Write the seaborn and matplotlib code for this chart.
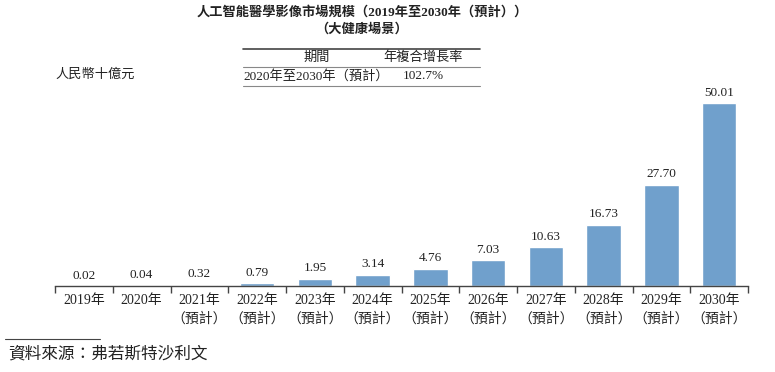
import pandas as pd
import matplotlib.pyplot as plt
import seaborn as sns

# data
years = ['2019年', '2020年', '2021年', '2022年', '2023年', '2024年',
         '2025年', '2026年', '2027年', '2028年', '2029年', '2030年']
forecast = [False, False, True, True, True, True, True, True, True, True, True, True]
market_size = [0.02, 0.04, 0.32, 0.79, 1.95, 3.14, 4.76, 7.03, 10.63, 16.73, 27.70, 50.01]
value_labels = ['0.02', '0.04', '0.32', '0.79', '1.95', '3.14', '4.76', '7.03',
                '10.63', '16.73', '27.70', '50.01']

tick_labels = [y + '\n（預計）' if f else y for y, f in zip(years, forecast)]
df = pd.DataFrame({'year': tick_labels, 'value': market_size})

sns.set_style('white')
fonts = ['Liberation Serif', 'Noto Sans CJK TC', 'DejaVu Sans']
plt.rcParams['font.family'] = fonts
txt = '#222222'

fig = plt.figure(figsize=(7.75, 3.72), dpi=100)
ax = fig.add_axes([55 / 775, 1 - 286 / 372, 693 / 775, 206 / 372])

sns.barplot(data=df, x='year', y='value', color='#70a0cc', width=0.6,
            saturation=1, ax=ax)
ax.set_ylim(0, 56.3)
ax.set_xlim(-0.5, len(years) - 0.5)

for i, (v, lab) in enumerate(zip(market_size, value_labels)):
    ax.text(i, v + 1.2, lab, ha='center', va='bottom', fontsize=9.5, color=txt)

sns.despine(ax=ax, left=True)
ax.spines['bottom'].set_color('#444444')
ax.spines['bottom'].set_linewidth(1.0)
ax.set_yticks([])
ax.set_xlabel('')
ax.set_ylabel('')
ax.set_xticks(range(len(years)))
ax.set_xticklabels(tick_labels, fontsize=10, color=txt, linespacing=1.45)
ax.tick_params(axis='x', which='major', length=0, pad=6)
ax.set_xticks([i - 0.5 for i in range(len(years) + 1)], minor=True)
ax.tick_params(axis='x', which='minor', bottom=True, length=5, width=1.0,
               color='#444444', direction='out')

# title
fig.text(362 / 775, 1 - 12 / 372, '人工智能醫學影像市場規模（2019年至2030年（預計））',
         ha='center', va='center', fontsize=9.5, fontweight='bold', color=txt)
fig.text(362 / 775, 1 - 29 / 372, '（大健康場景）', ha='center', va='center',
         fontsize=9.5, fontweight='bold', color=txt)

# CAGR table
x0, x1 = 243 / 775, 480 / 775
for y, lw, c in [(49, 1.2, '#444444'), (67, 0.8, '#888888'), (86, 0.8, '#888888')]:
    fig.add_artist(plt.Line2D([x0, x1], [1 - y / 372, 1 - y / 372],
                              transform=fig.transFigure, lw=lw, color=c))
fig.text(317 / 775, 1 - 58 / 372, '期間', ha='center', va='center', fontsize=9.5, color=txt)
fig.text(423 / 775, 1 - 58 / 372, '年複合增長率', ha='center', va='center', fontsize=9.5, color=txt)
fig.text(x0, 1 - 76 / 372, '2020年至2030年（預計）', ha='left', va='center', fontsize=9.5, color=txt)
fig.text(423 / 775, 1 - 76 / 372, '102.7%', ha='center', va='center', fontsize=9.5, color=txt)

# unit
fig.text(55 / 775, 1 - 75 / 372, '人民幣十億元', ha='left', va='center', fontsize=9.5,
         style='italic', color=txt)

# source
fig.add_artist(plt.Line2D([5 / 775, 100 / 775], [1 - 339 / 372, 1 - 339 / 372],
                          transform=fig.transFigure, lw=0.8, color='#444444'))
fig.text(8 / 775, 1 - 355 / 372, '資料來源：弗若斯特沙利文', ha='left', va='center',
         fontsize=12, style='italic', color=txt)

fig.savefig('out.png', dpi=100)
